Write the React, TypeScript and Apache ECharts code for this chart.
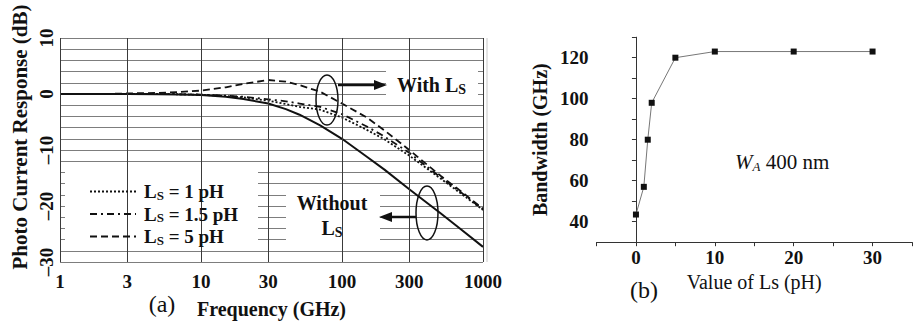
import React, { useEffect, useRef } from 'react';
import * as echarts from 'echarts';

// ---- Panel (a): photo current response vs frequency ----
const freqGHz = [1, 2, 3, 5, 7, 10, 15, 20, 30, 40, 50, 70, 100, 150, 200, 300, 500, 700, 1000];
const responseWithoutLs = [0, 0, 0, -0.05, -0.1, -0.2, -0.5, -0.9, -1.7, -2.7, -3.7, -5.6, -8.0, -11.2, -13.5, -17.0, -21.3, -24.2, -27.3];
const responseLs1 = [0, 0, 0, 0, -0.05, -0.15, -0.35, -0.6, -1.2, -1.8, -2.3, -2.8, -4.2, -6.4, -8.1, -11.0, -15.1, -17.8, -20.7];
const responseLs15 = [0, 0, 0, 0, -0.05, -0.1, -0.3, -0.5, -0.95, -1.3, -1.7, -2.3, -3.6, -5.8, -7.6, -10.5, -14.9, -17.6, -20.6];
const responseLs5 = [0, 0, 0.1, 0.2, 0.35, 0.6, 1.2, 1.8, 2.5, 2.2, 1.6, 0.4, -1.7, -4.2, -6.5, -10.0, -14.6, -17.4, -20.5];
const freqTicks = [1, 3, 10, 30, 100, 300, 1000];
const legendNames = ['Ls = 1 pH', 'Ls = 1.5 pH', 'Ls = 5 pH'];
const legendValues = ['1', '1.5', '5'];

// ---- Panel (b): bandwidth vs Ls ----
const lsValuesPH = [0, 1, 1.5, 2, 5, 10, 20, 30];
const bandwidthGHz = [43.5, 57, 80, 98, 120, 123, 123, 123];

const FONT = '"Liberation Serif", "Times New Roman", serif';
const INK = '#111';

export default function App() {
  const ref = useRef<HTMLDivElement>(null);

  useEffect(() => {
    if (!ref.current) return;
    const chart = echarts.init(ref.current, undefined, { renderer: 'svg' });
    const pairs = (ys: number[]) => freqGHz.map((f, i) => [f, ys[i]]);

    const option: any = {
      animation: false,
      backgroundColor: '#fff',
      color: [INK],
      grid: [
        { left: 60, top: 38, width: 423, height: 224 },
        { left: 596.5, top: 37.2, width: 321.5, height: 205 },
      ],
      legend: {
        data: legendNames,
        orient: 'vertical',
        left: 84,
        top: 177,
        itemWidth: 46,
        itemHeight: 12,
        itemGap: 3,
        z: 10,
        itemStyle: { opacity: 0 },
        formatter: (name: string) => {
          const i = legendNames.indexOf(name);
          return `{l|L}{s|S}{t| = ${legendValues[i]} pH}`;
        },
        textStyle: {
          fontFamily: FONT,
          fontWeight: 'bold',
          fontSize: 19,
          color: INK,
          padding: [0, 0, 0, 3],
          rich: {
            l: { fontFamily: FONT, fontWeight: 'bold', fontSize: 19, color: INK, lineHeight: 20 },
            s: { fontFamily: FONT, fontWeight: 'bold', fontSize: 13, color: INK, verticalAlign: 'bottom', lineHeight: 20 },
            t: { fontFamily: FONT, fontWeight: 'bold', fontSize: 19, color: INK, lineHeight: 20 },
          },
        },
      },
      xAxis: [
        {
          type: 'log',
          logBase: 10,
          gridIndex: 0,
          min: 1,
          max: 1000,
          axisLine: { show: false },
          axisTick: { show: false },
          splitLine: { show: false },
          minorSplitLine: { show: false },
          axisLabel: {
            customValues: freqTicks,
            formatter: (v: number) => String(Math.round(v)),
            fontFamily: FONT,
            fontWeight: 'bold',
            fontSize: 19,
            color: INK,
            margin: 10,
          },
          name: 'Frequency (GHz)',
          nameLocation: 'middle',
          nameGap: 37,
          nameTextStyle: { fontFamily: FONT, fontWeight: 'bold', fontSize: 20, color: INK },
        },
        {
          type: 'value',
          gridIndex: 1,
          min: -5,
          max: 35,
          interval: 5,
          axisLine: { lineStyle: { color: '#333', width: 1 } },
          axisTick: { length: 4, lineStyle: { color: '#333' } },
          splitLine: { show: false },
          axisLabel: {
            formatter: (v: number) => (v % 10 === 0 && v >= 0 ? String(v) : ''),
            fontFamily: FONT,
            fontWeight: 'bold',
            fontSize: 19,
            color: INK,
            margin: 6,
          },
          name: 'Value of Ls (pH)',
          nameLocation: 'middle',
          nameGap: 27,
          nameTextStyle: { fontFamily: FONT, fontSize: 20, color: INK },
        },
      ],
      yAxis: [
        {
          type: 'value',
          gridIndex: 0,
          min: -30,
          max: 10,
          interval: 2,
          axisLine: { show: false },
          axisTick: { show: false },
          splitLine: { lineStyle: { color: '#7d7d7d', width: 1 } },
          axisLabel: {
            rotate: 90,
            formatter: (v: number) => (v % 10 === 0 ? String(v).replace('-', '–') : ''),
            fontFamily: FONT,
            fontWeight: 'bold',
            fontSize: 19,
            color: INK,
            margin: 4,
          },
          name: 'Photo Current Response (dB)',
          nameLocation: 'middle',
          nameRotate: 90,
          nameGap: 30,
          nameTextStyle: { fontFamily: FONT, fontWeight: 'bold', fontSize: 21, color: INK, padding: [0, 0, 0, 26] },
        },
        {
          type: 'value',
          gridIndex: 1,
          min: 30,
          max: 130,
          interval: 10,
          axisLine: { show: true, lineStyle: { color: '#333', width: 1 } },
          axisTick: { show: true, length: 4, lineStyle: { color: '#333' } },
          splitLine: { show: false },
          axisLabel: {
            formatter: (v: number) => (v % 20 === 0 && v >= 40 && v <= 120 ? String(v) : ''),
            fontFamily: FONT,
            fontWeight: 'bold',
            fontSize: 19,
            color: INK,
            margin: 8,
          },
          name: 'Bandwidth (GHz)',
          nameLocation: 'middle',
          nameRotate: 90,
          nameGap: 47,
          nameTextStyle: { fontFamily: FONT, fontWeight: 'bold', fontSize: 20, color: INK },
        },
      ],
      series: [
        {
          name: 'Without Ls',
          type: 'line',
          xAxisIndex: 0,
          yAxisIndex: 0,
          data: pairs(responseWithoutLs),
          symbol: 'none',
          itemStyle: { color: INK },
          lineStyle: { color: INK, width: 2, type: 'solid' },
          markLine: {
            silent: true,
            symbol: ['none', 'none'],
            label: { show: false },
            lineStyle: { color: '#3a3a3a', width: 1, type: 'solid' },
            data: freqTicks.map((v) => ({ xAxis: v })),
          },
          z: 2,
        },
        {
          name: legendNames[0],
          type: 'line',
          xAxisIndex: 0,
          yAxisIndex: 0,
          data: pairs(responseLs1),
          symbol: 'none',
          itemStyle: { color: INK },
          lineStyle: { color: INK, width: 1.8, type: [2, 2] },
        },
        {
          name: legendNames[1],
          type: 'line',
          xAxisIndex: 0,
          yAxisIndex: 0,
          data: pairs(responseLs15),
          symbol: 'none',
          itemStyle: { color: INK },
          lineStyle: { color: INK, width: 1.8, type: [7, 4, 2, 4] },
        },
        {
          name: legendNames[2],
          type: 'line',
          xAxisIndex: 0,
          yAxisIndex: 0,
          data: pairs(responseLs5),
          symbol: 'none',
          itemStyle: { color: INK },
          lineStyle: { color: INK, width: 1.8, type: [7, 4] },
        },
        {
          name: 'Bandwidth',
          type: 'line',
          xAxisIndex: 1,
          yAxisIndex: 1,
          data: lsValuesPH.map((x, i) => [x, bandwidthGHz[i]]),
          symbol: 'rect',
          symbolSize: 6,
          itemStyle: { color: INK },
          lineStyle: { color: '#777', width: 1 },
        },
      ],
      graphic: [
        { type: 'rect', z: 3, shape: { x: 65, y: 166, width: 193, height: 79 }, style: { fill: '#fff' } },
        { type: 'rect', z: 3, shape: { x: 286, y: 187, width: 94, height: 58 }, style: { fill: '#fff' } },
        { type: 'rect', z: 3, shape: { x: 386, y: 65, width: 92, height: 34 }, style: { fill: '#fff' } },
        { type: 'line', z: 3, shape: { x1: 487, y1: 38, x2: 487, y2: 262 }, style: { stroke: '#c8c8c8', lineWidth: 1 } },
        // With Ls annotation
        { type: 'ellipse', z: 6, shape: { cx: 327, cy: 100, rx: 11, ry: 25 }, style: { fill: 'none', stroke: INK, lineWidth: 1.5 } },
        { type: 'line', z: 6, shape: { x1: 338, y1: 85, x2: 376, y2: 85 }, style: { stroke: INK, lineWidth: 2.5 } },
        { type: 'polygon', z: 6, shape: { points: [[387, 85], [374, 80], [374, 90]] }, style: { fill: INK } },
        {
          type: 'text', z: 6, x: 397, y: 85,
          style: {
            text: '{a|With L}{s|S}',
            verticalAlign: 'middle',
            rich: {
              a: { fontFamily: FONT, fontWeight: 'bold', fontSize: 20, fill: INK, lineHeight: 22 },
              s: { fontFamily: FONT, fontWeight: 'bold', fontSize: 14, fill: INK, lineHeight: 22, verticalAlign: 'bottom' },
            },
          },
        },
        // Without Ls annotation
        { type: 'ellipse', z: 6, shape: { cx: 427, cy: 213, rx: 11, ry: 27 }, style: { fill: 'none', stroke: INK, lineWidth: 1.5 } },
        { type: 'line', z: 6, shape: { x1: 416, y1: 217, x2: 390, y2: 217 }, style: { stroke: INK, lineWidth: 2.5 } },
        { type: 'polygon', z: 6, shape: { points: [[379, 217], [392, 212], [392, 222]] }, style: { fill: INK } },
        {
          type: 'text', z: 6, x: 332, y: 203,
          style: { text: 'Without', align: 'center', verticalAlign: 'middle', font: `bold 20px ${FONT}`, fill: INK },
        },
        {
          type: 'text', z: 6, x: 332, y: 228,
          style: {
            text: '{a|L}{s|S}',
            align: 'center',
            verticalAlign: 'middle',
            rich: {
              a: { fontFamily: FONT, fontWeight: 'bold', fontSize: 20, fill: INK, lineHeight: 22 },
              s: { fontFamily: FONT, fontWeight: 'bold', fontSize: 14, fill: INK, lineHeight: 22, verticalAlign: 'bottom' },
            },
          },
        },
        // panel labels
        {
          type: 'text', z: 6, x: 162, y: 304,
          style: { text: '(a)', align: 'center', verticalAlign: 'middle', font: `24px ${FONT}`, fill: INK },
        },
        {
          type: 'text', z: 6, x: 644, y: 290,
          style: { text: '(b)', align: 'center', verticalAlign: 'middle', font: `24px ${FONT}`, fill: INK },
        },
        {
          type: 'text', z: 6, x: 735, y: 162,
          style: {
            text: '{w|W}{a|A}{n| 400 nm}',
            verticalAlign: 'middle',
            rich: {
              w: { fontFamily: FONT, fontStyle: 'italic', fontSize: 21, fill: INK, lineHeight: 22 },
              a: { fontFamily: FONT, fontStyle: 'italic', fontSize: 13, fill: INK, lineHeight: 22, verticalAlign: 'bottom' },
              n: { fontFamily: FONT, fontSize: 21, fill: INK, lineHeight: 22 },
            },
          },
        },
      ],
    };

    chart.setOption(option);
    return () => chart.dispose();
  }, []);

  return (
    <div
      ref={ref}
      style={{ position: 'fixed', left: 0, top: 0, width: 915, height: 324, background: '#fff' }}
    />
  );
}
